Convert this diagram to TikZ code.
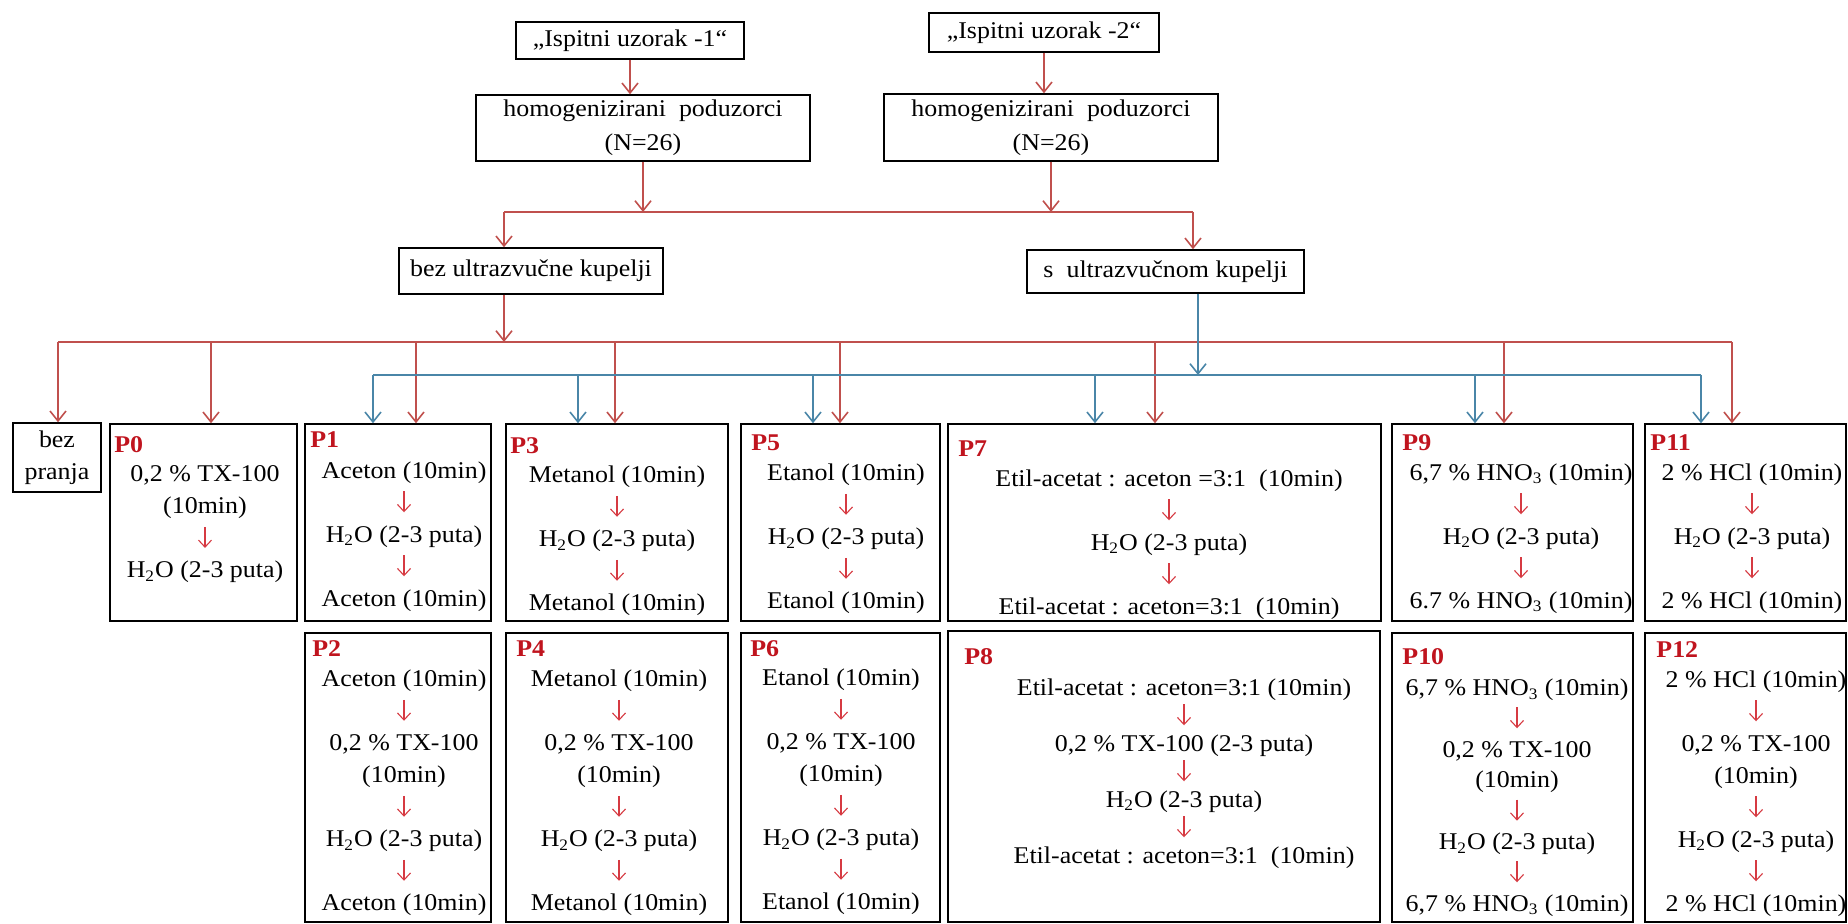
\documentclass[tikz,border=0pt]{standalone}
\usepackage{fontspec}
\setmainfont{Liberation Serif}[FakeStretch=1.08]
\usetikzlibrary{arrows.meta}
\definecolor{lignerouge}{HTML}{C0504D}
\definecolor{ligneblue}{HTML}{4A86A8}
\definecolor{etiqrouge}{HTML}{C0141E}
\definecolor{flecherouge}{HTML}{D63A42}
\newcommand{\fl}{\tikz[baseline=0pt]\draw[flecherouge, line width=0.55pt, -{Straight Barb[length=3.5pt,width=6.5pt]}] (0pt,9.5pt) -- (0pt,-1pt);}
\newcommand{\eau}{H\textsubscript{2}O (2-3 puta)}

\begin{document}
\begin{tikzpicture}[x=0.5pt,y=-0.5pt]
\tikzset{cadre/.style={draw, line width=0.7pt, inner sep=0pt},
texte/.style={align=center, inner sep=0pt, font=\fontsize{12}{16}\selectfont},
etiq/.style={anchor=west, inner sep=0pt, text=etiqrouge, font=\fontsize{12}{14}\selectfont\bfseries},
rouge/.style={draw=lignerouge, line width=0.8pt},
fr/.style={rouge, -{Straight Barb[length=5pt,width=8pt]}},
bleu/.style={draw=ligneblue, line width=0.8pt},
fb/.style={bleu, -{Straight Barb[length=5pt,width=8pt]}}}
\useasboundingbox (0,0) rectangle (1848,924);
% haut
\node[cadre, texte, minimum width=114pt, minimum height=18.5pt] (I1) at (630,40.5) {„Ispitni uzorak -1“};
\node[cadre, texte, minimum width=115pt, minimum height=19.5pt] (I2) at (1044,32.5) {„Ispitni uzorak -2“};
\node[cadre, texte, font=\fontsize{12}{17}\selectfont, minimum width=167pt, minimum height=33pt] (H1) at (643,128) {homogenizirani\ \ poduzorci\\(N=26)};
\node[cadre, texte, font=\fontsize{12}{17}\selectfont, minimum width=167pt, minimum height=33.5pt] (H2) at (1051,127.5) {homogenizirani\ \ poduzorci\\(N=26)};
\node[cadre, texte, minimum width=132pt, minimum height=23pt] (U1) at (531,271) {bez ultrazvučne kupelji};
\node[cadre, texte, minimum width=138.5pt, minimum height=21.5pt] (U2) at (1165.5,271.5) {s\ \ ultrazvučnom kupelji};
% postupci
\node[cadre, texte, minimum width=44pt, minimum height=34.5pt] (B0) at (57,457.5) {bez\\pranja};
\node[cadre, minimum width=93.5pt, minimum height=98.5pt] (P0) at (203.5,522.5) {};
\node[cadre, minimum width=93pt, minimum height=98.5pt] (P1) at (398,522.5) {};
\node[cadre, minimum width=111pt, minimum height=98.5pt] (P3) at (617,522.5) {};
\node[cadre, minimum width=99.5pt, minimum height=98.5pt] (P5) at (840.5,522.5) {};
\node[cadre, minimum width=216.5pt, minimum height=98.5pt] (P7) at (1164.5,522.5) {};
\node[cadre, minimum width=120.5pt, minimum height=98.5pt] (P9) at (1512.5,522.5) {};
\node[cadre, minimum width=100.5pt, minimum height=98.5pt] (P11) at (1745.5,522.5) {};
\node[cadre, minimum width=93pt, minimum height=144.5pt] (P2) at (398,777.5) {};
\node[cadre, minimum width=111pt, minimum height=144.5pt] (P4) at (617,777.5) {};
\node[cadre, minimum width=99.5pt, minimum height=144.5pt] (P6) at (840.5,777.5) {};
\node[cadre, minimum width=216pt, minimum height=145.5pt] (P8) at (1164,776.5) {};
\node[cadre, minimum width=120.5pt, minimum height=144.5pt] (P10) at (1512.5,777.5) {};
\node[cadre, minimum width=100.5pt, minimum height=144.5pt] (P12) at (1745.5,777.5) {};
% oznake
\node[etiq] (L0) at (114,445) {P0};
\node[etiq] (L1) at (310,440) {P1};
\node[etiq] (L3) at (510,446) {P3};
\node[etiq] (L5) at (751,443) {P5};
\node[etiq] (L7) at (958,449) {P7};
\node[etiq] (L9) at (1402,443) {P9};
\node[etiq] (L11) at (1650,443) {P11};
\node[etiq] (L2) at (312,649) {P2};
\node[etiq] (L4) at (516,649) {P4};
\node[etiq] (L6) at (750,649) {P6};
\node[etiq] (L8) at (964,657) {P8};
\node[etiq] (L10) at (1402,657) {P10};
\node[etiq] (L12) at (1656,650) {P12};
% tekst
\node[texte] (T0) at (205,524.5) {0,2 \% TX-100\\(10min)\\\fl\\\eau};
\node[texte] (T1) at (404,536.5) {Aceton (10min)\\\fl\\\eau\\\fl\\Aceton (10min)};
\node[texte] (T3) at (617,541) {Metanol (10min)\\\fl\\\eau\\\fl\\Metanol (10min)};
\node[texte] (T5) at (846,539) {Etanol (10min)\\\fl\\\eau\\\fl\\Etanol (10min)};
\node[texte] (T7) at (1169,544.5) {Etil-acetat : aceton =3:1\ \ (10min)\\\fl\\\eau\\\fl\\Etil-acetat : aceton=3:1\ \ (10min)};
\node[texte] (T9) at (1521,538.5) {6,7 \% HNO\textsubscript{3} (10min)\\\fl\\\eau\\\fl\\6.7 \% HNO\textsubscript{3} (10min)};
\node[texte] (T11) at (1752,538.5) {2 \% HCl (10min)\\\fl\\\eau\\\fl\\2 \% HCl (10min)};
\node[texte] (T2) at (404,793) {Aceton (10min)\\\fl\\0,2 \% TX-100\\(10min)\\\fl\\\eau\\\fl\\Aceton (10min)};
\node[texte] (T4) at (619,793) {Metanol (10min)\\\fl\\0,2 \% TX-100\\(10min)\\\fl\\\eau\\\fl\\Metanol (10min)};
\node[texte] (T6) at (841,792) {Etanol (10min)\\\fl\\0,2 \% TX-100\\(10min)\\\fl\\\eau\\\fl\\Etanol (10min)};
\node[texte, font=\fontsize{12}{14}\selectfont] (T8) at (1184,773.5) {Etil-acetat : aceton=3:1 (10min)\\\fl\\0,2 \% TX-100 (2-3 puta)\\\fl\\\eau\\\fl\\Etil-acetat : aceton=3:1\ \ (10min)};
\node[texte, font=\fontsize{12}{15.4}\selectfont] (T10) at (1517,797.5) {6,7 \% HNO\textsubscript{3} (10min)\\\fl\\0,2 \% TX-100\\(10min)\\\fl\\\eau\\\fl\\6,7 \% HNO\textsubscript{3} (10min)};
\node[texte] (T12) at (1756,793.5) {2 \% HCl (10min)\\\fl\\0,2 \% TX-100\\(10min)\\\fl\\\eau\\\fl\\2 \% HCl (10min)};
% veze
\coordinate (J1) at (504,212);
\coordinate (J2) at (1193,212);
\coordinate (rB) at (58,342);
\coordinate (r0) at (211,342);
\coordinate (r1) at (416,342);
\coordinate (r3) at (615,342);
\coordinate (r5) at (840,342);
\coordinate (r7) at (1155,342);
\coordinate (r9) at (1504,342);
\coordinate (r11) at (1732,342);
\coordinate (bU) at (1198,375);
\coordinate (b1) at (373,375);
\coordinate (b3) at (578,375);
\coordinate (b5) at (813,375);
\coordinate (b7) at (1095,375);
\coordinate (b9) at (1475,375);
\coordinate (b11) at (1701,375);
\draw[fr] (I1.south) -- (I1.south |- H1.north);
\draw[fr] (I2.south) -- (I2.south |- H2.north);
\draw[rouge] (J1) -- (J2);
\draw[fr] (H1.south) -- (H1.south |- J1);
\draw[fr] (H2.south) -- (H2.south |- J1);
\draw[fr] (J1) -- (J1 |- U1.north);
\draw[fr] (J2) -- (J2 |- U2.north);
\draw[rouge] (rB) -- (r11);
\draw[fr] (J1 |- U1.south) -- (J1 |- rB);
\draw[fr] (rB) -- (rB |- B0.north);
\draw[fr] (r0) -- (r0 |- P0.north);
\draw[fr] (r1) -- (r1 |- P1.north);
\draw[fr] (r3) -- (r3 |- P3.north);
\draw[fr] (r5) -- (r5 |- P5.north);
\draw[fr] (r7) -- (r7 |- P7.north);
\draw[fr] (r9) -- (r9 |- P9.north);
\draw[fr] (r11) -- (r11 |- P11.north);
\draw[bleu] (b1) -- (b11);
\draw[fb] (bU |- U2.south) -- (bU);
\draw[fb] (b1) -- (b1 |- P1.north);
\draw[fb] (b3) -- (b3 |- P3.north);
\draw[fb] (b5) -- (b5 |- P5.north);
\draw[fb] (b7) -- (b7 |- P7.north);
\draw[fb] (b9) -- (b9 |- P9.north);
\draw[fb] (b11) -- (b11 |- P11.north);
\end{tikzpicture}
\end{document}
